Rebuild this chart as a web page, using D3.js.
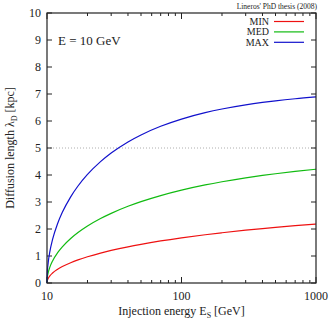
<!DOCTYPE html>
<html lang="en">
<head>
<meta charset="UTF-8">
<title>Diffusion length</title>
<script src="https://d3js.org/d3.v7.min.js"></script>
<style>
    body { margin: 0; background: #fff; }
    text { font-family: "Liberation Serif", "DejaVu Serif", serif; fill: #222; }
</style>
</head>
<body>
<div id="chart"></div>
<script>
// injection energy E_S [GeV]
const energies = [10, 10.05, 10.2, 10.5, 11, 12, 13, 15, 17, 20, 25, 30, 40, 50, 70, 100, 150, 200, 300, 400, 500, 700, 1000];
// diffusion length [kpc]
const minVals = [0, 0.085, 0.169, 0.264, 0.369, 0.508, 0.608, 0.752, 0.856, 0.972, 1.109, 1.206, 1.341, 1.433, 1.557, 1.672, 1.788, 1.861, 1.956, 2.017, 2.061, 2.124, 2.185];
const medVals = [0, 0.188, 0.375, 0.587, 0.818, 1.124, 1.340, 1.648, 1.868, 2.110, 2.388, 2.580, 2.841, 3.014, 3.238, 3.439, 3.632, 3.750, 3.895, 3.984, 4.047, 4.134, 4.214];
const maxVals = [0, 0.373, 0.742, 1.160, 1.612, 2.204, 2.616, 3.192, 3.592, 4.021, 4.496, 4.814, 5.225, 5.484, 5.804, 6.071, 6.308, 6.444, 6.599, 6.688, 6.748, 6.825, 6.891];
const seriesNames = ["MIN", "MED", "MAX"];
const seriesColors = ["#ee1111", "#11bb11", "#1111cc"];
const yTicks = [0, 1, 2, 3, 4, 5, 6, 7, 8, 9, 10];
const xTicks = [10, 100, 1000];

const width = 334, height = 325;
const margin = {top: 13, right: 18, bottom: 42, left: 47};

const svg = d3.select("#chart").append("svg")
    .attr("width", width)
    .attr("height", height);

const x = d3.scaleLog().domain([10, 1000]).range([margin.left, width - margin.right]);
const y = d3.scaleLinear().domain([0, 10]).range([height - margin.bottom, margin.top]);

const x0 = x.range()[0], x1 = x.range()[1];
const y0 = y.range()[0], y1 = y.range()[1];

// dotted reference line at 5 kpc
svg.append("line")
    .attr("x1", x0).attr("x2", x1)
    .attr("y1", y(5)).attr("y2", y(5))
    .attr("stroke", "#999")
    .attr("stroke-width", 0.8)
    .attr("stroke-dasharray", "1,2");

// minor log ticks, inward, top and bottom
const minor = [];
for (let d = 10; d < 1000; d *= 10) {
    for (let k = 2; k <= 9; k++) minor.push(d * k);
}
const tickG = svg.append("g").attr("stroke", "#222").attr("stroke-width", 1);
minor.forEach(v => {
    tickG.append("line").attr("x1", x(v)).attr("x2", x(v)).attr("y1", y0).attr("y2", y0 - 3);
    tickG.append("line").attr("x1", x(v)).attr("x2", x(v)).attr("y1", y1).attr("y2", y1 + 3);
});
xTicks.forEach(v => {
    tickG.append("line").attr("x1", x(v)).attr("x2", x(v)).attr("y1", y0).attr("y2", y0 - 6);
    tickG.append("line").attr("x1", x(v)).attr("x2", x(v)).attr("y1", y1).attr("y2", y1 + 6);
});
yTicks.forEach(v => {
    tickG.append("line").attr("x1", x0).attr("x2", x0 + 5).attr("y1", y(v)).attr("y2", y(v));
    tickG.append("line").attr("x1", x1).attr("x2", x1 - 5).attr("y1", y(v)).attr("y2", y(v));
});

// tick labels
svg.append("g").selectAll("text")
    .data(yTicks).enter().append("text")
    .attr("x", x0 - 6)
    .attr("y", d => y(d) + 4)
    .attr("text-anchor", "end")
    .attr("font-size", 12)
    .text(d => d);

svg.append("g").selectAll("text")
    .data(xTicks).enter().append("text")
    .attr("x", d => x(d))
    .attr("y", y0 + 17)
    .attr("text-anchor", "middle")
    .attr("font-size", 12)
    .text(d => d);

// curves
const line = d3.line()
    .x(d => x(d[0]))
    .y(d => y(d[1]))
    .curve(d3.curveMonotoneX);

[minVals, medVals, maxVals].forEach((vals, i) => {
    svg.append("path")
        .datum(energies.map((e, j) => [e, vals[j]]))
        .attr("fill", "none")
        .attr("stroke", seriesColors[i])
        .attr("stroke-width", 1.2)
        .attr("d", line);
});

// frame
svg.append("rect")
    .attr("x", x0).attr("y", y1)
    .attr("width", x1 - x0).attr("height", y0 - y1)
    .attr("fill", "none")
    .attr("stroke", "#222")
    .attr("stroke-width", 1.2);

// legend
const legend = svg.append("g").selectAll("g")
    .data(seriesNames).enter().append("g")
    .attr("transform", (d, i) => `translate(0, ${21.5 + i * 10.4})`);
legend.append("text")
    .attr("x", 269).attr("y", 3.5)
    .attr("text-anchor", "end")
    .attr("font-size", 10)
    .text(d => d);
legend.append("line")
    .attr("x1", 274).attr("x2", 304)
    .attr("y1", 0).attr("y2", 0)
    .attr("stroke", (d, i) => seriesColors[i])
    .attr("stroke-width", 1.2);

// annotations
svg.append("text")
    .attr("x", 58).attr("y", 45)
    .attr("font-size", 13)
    .text("E = 10 GeV");

svg.append("text")
    .attr("x", x1 + 1).attr("y", 9)
    .attr("text-anchor", "end")
    .attr("font-size", 7.5)
    .text("Lineros' PhD thesis (2008)");

// axis titles
const xt = svg.append("text")
    .attr("x", (x0 + x1) / 2).attr("y", y0 + 32)
    .attr("text-anchor", "middle")
    .attr("font-size", 12);
xt.append("tspan").text("Injection energy E");
xt.append("tspan").attr("font-size", 8).attr("dy", 3).text("S");
xt.append("tspan").attr("dy", -3).text(" [GeV]");

const yt = svg.append("text")
    .attr("transform", `translate(14, ${(y0 + y1) / 2}) rotate(-90)`)
    .attr("text-anchor", "middle")
    .attr("font-size", 12);
yt.append("tspan").text("Diffusion length λ");
yt.append("tspan").attr("font-size", 8).attr("dy", 3).text("D");
yt.append("tspan").attr("dy", -3).text(" [kpc]");
</script>
</body>
</html>
